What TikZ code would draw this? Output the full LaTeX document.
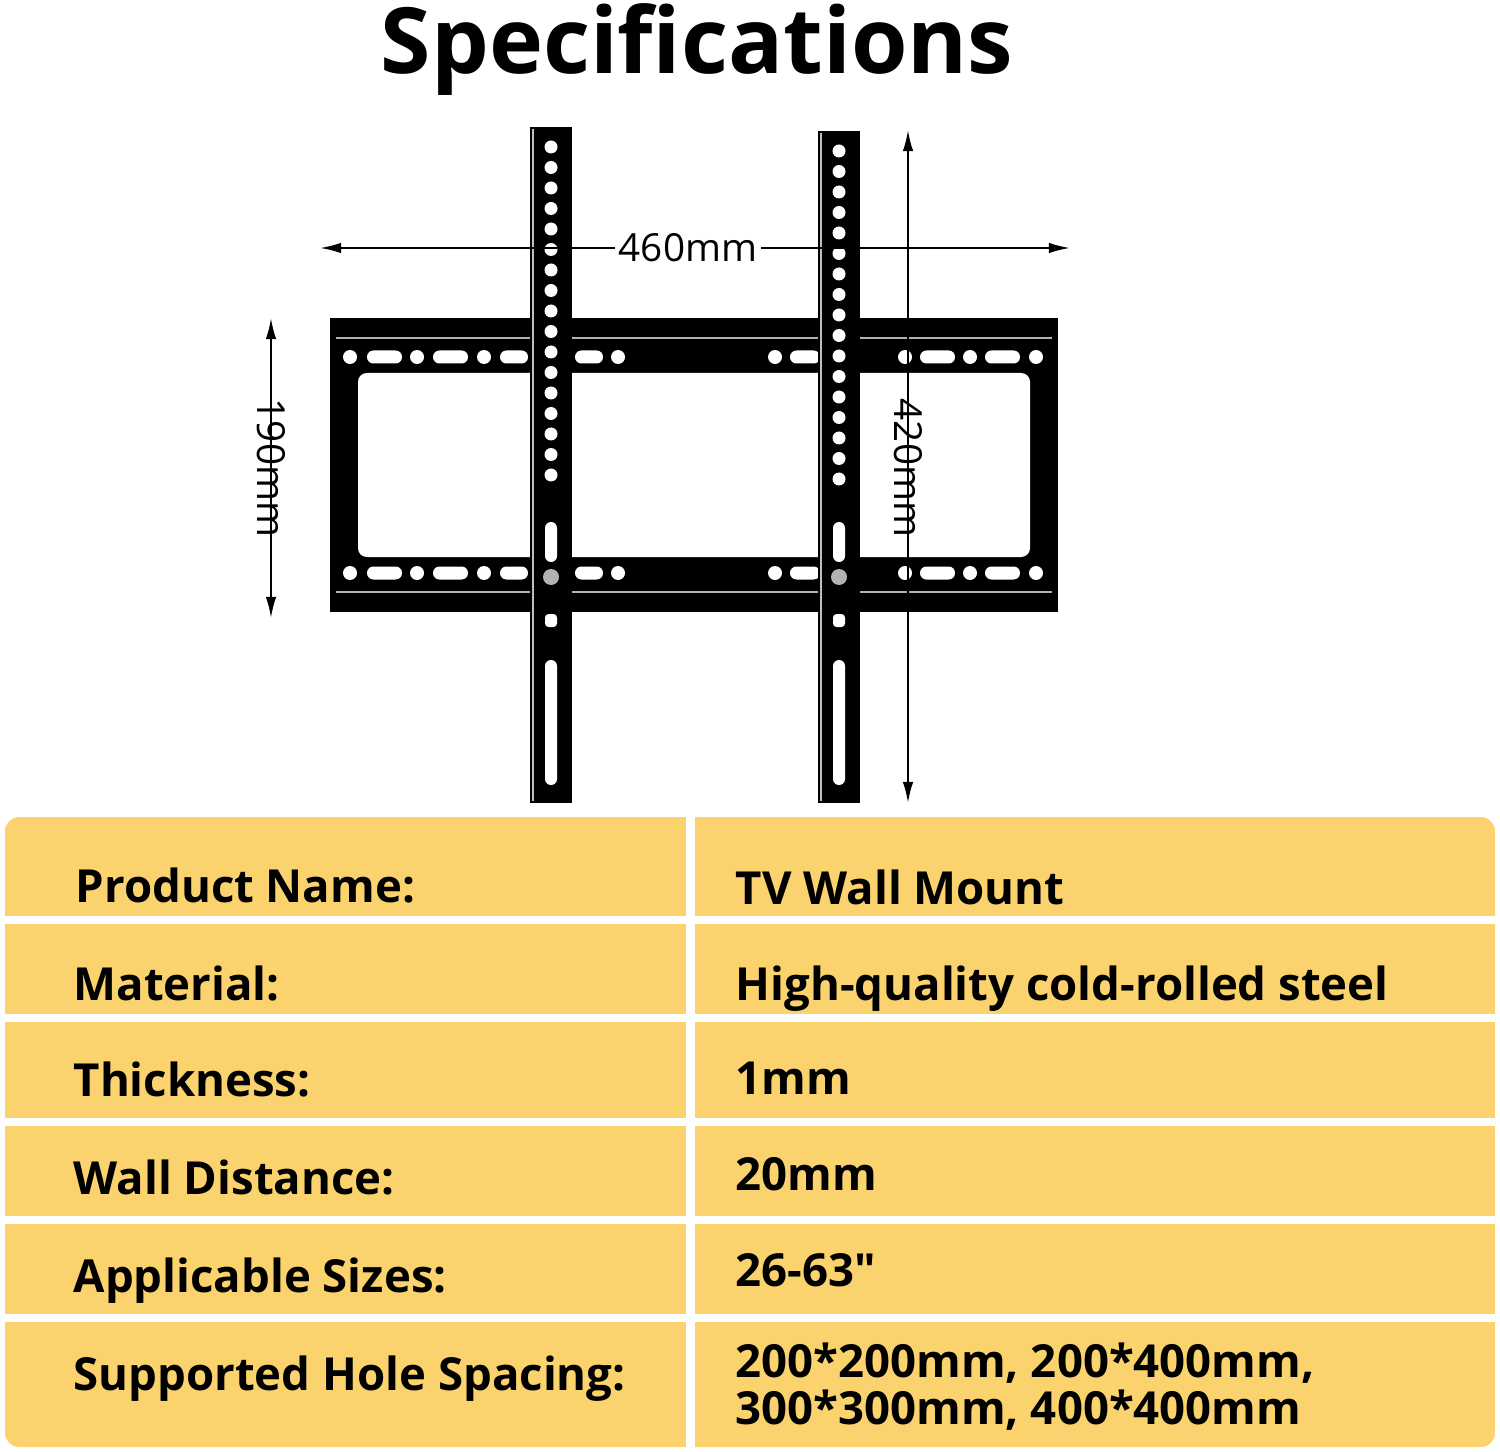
\documentclass[tikz,border=0pt]{standalone}
\usepackage{fontspec}
\usetikzlibrary{arrows.meta}
\setmainfont{Open Sans}
\newfontfamily\osq{Open Sans}
\begin{document}
\begin{tikzpicture}[x=0.01cm,y=-0.01cm,
  hole/.style={fill=white},
  dim/.style={black,line width=0.6pt,-{Latex[length=6pt,width=3pt]}},
  lbl/.style={font=\fontsize{12.95}{15}\selectfont\bfseries,anchor=base west,inner sep=0},
  val/.style={font=\fontsize{12.95}{15}\selectfont\bfseries,anchor=base west,inner sep=0,align=left},
  dimtxt/.style={font=\fontsize{11}{13}\selectfont,fill=white,inner sep=1pt}]
\useasboundingbox (0,0) rectangle (1500,1452);
\fill[white] (0,0) rectangle (1500,1452);
\node[font=\fontsize{26}{30}\selectfont\bfseries] (title) at (697,50) {Specifications};
% frame
\fill[black] (330,318) rectangle (1058,612);
\fill[white,rounded corners=2.5pt] (358,373) rectangle (1030,557);
\draw[gray!60,line width=0.4pt] (336,338)--(1052,338) (336,592)--(1052,592);
\foreach \yy in {357,573}{
  \foreach \cx in {350,417,484,618,775,905,970,1036} \fill[hole] (\cx,\yy) circle (7);
  \foreach \a/\b in {367/402,433/468,500/528,575/603,790/820,920/955,985/1020}
    \fill[hole,rounded corners=1.8pt] (\a,\yy-6.5) rectangle (\b,\yy+6.5);
}
% vertical bars
\foreach \bx/\top in {530/127,818/131}{
  \fill[black] (\bx,\top) rectangle (\bx+42,803);
  \draw[gray!50,line width=0.3pt] (\bx+3,\top+2)--(\bx+3,801);
  \foreach \k in {0,...,16} \fill[hole] (\bx+21,\top+20+\k*20.5) circle (6.5);
  \fill[hole,rounded corners=1.7pt] (\bx+15,522) rectangle (\bx+27,562);
  \fill[gray!60] (\bx+21,577) circle (8);
  \fill[hole,rounded corners=1pt] (\bx+15,614) rectangle (\bx+27,627);
  \fill[hole,rounded corners=1.7pt] (\bx+15,660) rectangle (\bx+27,785);
}
% dimensions
\coordinate (hL) at (320,248); \coordinate (hR) at (1070,248);
\node[dimtxt] (d460) at (688,248) {460mm};
\draw[dim] (d460.west)--(hL); \draw[dim] (d460.east)--(hR);
\coordinate (aT) at (271,318); \coordinate (aB) at (271,618);
\node[dimtxt,rotate=-90] (d190) at (271,468) {190mm};
\draw[dim] (d190.east)--(aT); \draw[dim] (d190.west)--(aB);
\coordinate (bT) at (908,130); \coordinate (bB) at (908,803);
\node[dimtxt,rotate=-90] (d420) at (908,468) {420mm};
\draw[dim] (d420.east)--(bT); \draw[dim] (d420.west)--(bB);
% table
\definecolor{tab}{HTML}{FBD36E}
\fill[tab,rounded corners=4pt] (5,817) rectangle (1495,1447);
\fill[white] (686,817) rectangle (695,1447);
\foreach \yy in {920,1018,1122,1220,1318} \fill[white] (5,\yy-4) rectangle (1495,\yy+4);
\node[lbl] (l1) at (75,902) {Product Name:};
\node[lbl] (l2) at (73,1000) {Material:};
\node[lbl] (l3) at (73,1096) {Thickness:};
\node[lbl] (l4) at (73,1194) {Wall Distance:};
\node[lbl] (l5) at (73,1292) {Applicable Sizes:};
\node[lbl] (l6) at (73,1390) {Supported Hole Spacing:};
\node[val] (v1) at (735,904) {TV Wall Mount};
\node[val] (v2) at (735,1000) {High-quality cold-rolled steel};
\node[val] (v3) at (735,1094) {1mm};
\node[val] (v4) at (735,1190) {20mm};
\node[val] (v5) at (735,1286) {26-63{\osq\bfseries "}};
\node[val,anchor=north west,font=\fontsize{12.95}{13.3}\selectfont\bfseries] (v6) at (735,1342) {200*200mm, 200*400mm,\\300*300mm, 400*400mm};
\end{tikzpicture}
\end{document}
